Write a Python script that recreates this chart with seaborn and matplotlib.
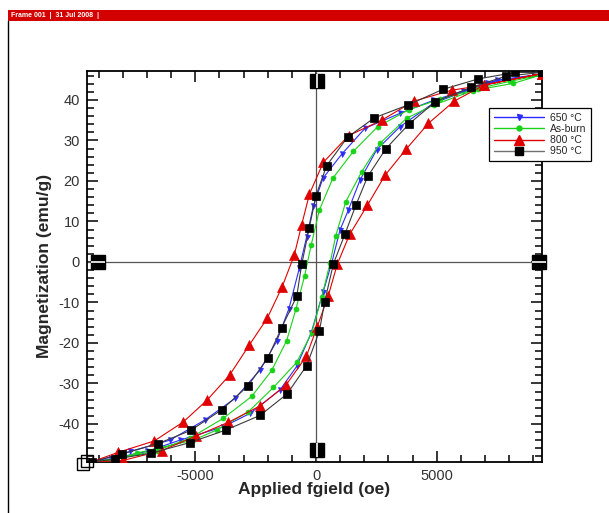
import matplotlib
matplotlib.use("Agg")
import matplotlib.pyplot as plt
import seaborn as sns
import pandas as pd
from matplotlib.ticker import MultipleLocator
from matplotlib.patches import Rectangle
from matplotlib.lines import Line2D

# ---------------- data ----------------
series_names = ["650 °C", "As-burn", "800 °C", "950 °C"]

# 650 °C (blue): descending branch then ascending branch
H_650 = [9350, 7500, 6103, 4860, 3480, 2030, 1064, 290, -110, -387, -690, -1120,
         -1630, -2320, -3355, -4598, -6048, -7705, -9300,
         -8500, -7000, -5634, -3840, -2734, -1491, -801, -200, 300, 649, 994,
         1340, 1823, 2513, 3480, 4860, 7071, 9350]
M_650 = [46.4, 44.9, 42.2, 39.9, 36.7, 33.0, 26.6, 20.7, 13.8, 6.2, -1.5, -11.5,
         -19.6, -26.7, -33.7, -39.0, -44.0, -46.8, -49.4,
         -48.6, -46.8, -44.0, -40.7, -37.4, -31.6, -25.8, -17.5, -7.3, -0.3, 7.9,
         12.8, 20.2, 27.7, 33.4, 39.2, 44.1, 46.4]

# As-burn (green)
H_asb = [9350, 8036, 6700, 5137, 3850, 2554, 1547, 700, 138, -200, -470, -835,
         -1215, -1836, -2664, -3840, -5220, -6600, -8000, -9300,
         -8400, -7430, -5082, -4114, -2804, -1768, -801, -179, 235, 580, 820,
         1235, 1893, 2651, 3757, 4900, 6500, 8174, 9350]
M_asb = [46.2, 44.6, 42.8, 40.2, 37.6, 33.4, 27.3, 20.7, 12.8, 4.2, -3.4, -11.7,
         -19.4, -26.8, -33.2, -38.6, -43.5, -46.6, -48.3, -49.4,
         -49.0, -47.2, -44.0, -41.5, -37.0, -31.0, -24.8, -17.5, -8.7, -0.3, 6.5,
         14.9, 22.3, 29.3, 35.5, 38.8, 42.3, 44.1, 46.2]

# 800 °C (red)
H_800 = [9350, 6972, 5620, 4053, 2720, 1350, 304, -270, -593, -905, -1400, -2020,
         -2762, -3575, -4510, -5496, -6700, -8189, -9300,
         -7980, -6400, -4980, -3632, -2335, -1243, -400, 50, 500, 890, 1395,
         2127, 2860, 3728, 4653, 5723, 6972, 9350]
M_800 = [46.5, 43.7, 42.4, 39.7, 35.0, 31.2, 24.6, 16.8, 9.2, 1.6, -6.1, -13.9,
         -20.5, -27.9, -34.1, -39.5, -44.2, -47.0, -49.4,
         -49.0, -46.6, -43.0, -39.6, -35.6, -30.4, -23.3, -16.0, -8.5, -0.4, 6.8,
         14.0, 21.4, 27.8, 34.2, 39.7, 43.7, 46.5]

# 950 °C (black)
H_950 = [9350, 8243, 6724, 5248, 3824, 2420, 1305, 443, 0, -277, -593, -800,
         -1421, -1990, -2817, -3906, -5190, -6565, -8024, -9300,
         -8340, -6820, -5220, -3735, -2320, -1200, -387, 138, 360, 718, 1201,
         1657, 2141, 2887, 3838, 4950, 6420, 7885, 9350]
M_950 = [46.8, 46.8, 45.2, 42.6, 38.8, 35.6, 30.8, 23.8, 16.4, 8.5, -0.6, -8.5,
         -16.2, -23.6, -30.6, -36.5, -41.6, -44.9, -47.4, -49.4,
         -48.7, -47.2, -44.6, -41.5, -37.9, -32.6, -25.6, -17.1, -9.8, -0.5, 6.9,
         14.1, 21.1, 27.9, 34.0, 39.6, 43.1, 45.9, 46.8]

x_ticks = [-5000, 0, 5000]
y_ticks = [-40, -30, -20, -10, 0, 10, 20, 30, 40]

# Tecplot axis "grab handles"
handle_vert_H = [40, 40]          # on the H=0 line (top / bottom)
handle_vert_M = [44.7, -46.4]
handle_horz_H = [-9030, 9240]     # on the M=0 line (left / right)
handle_horz_M = [0, 0]
corner_H = [-9673, -9507]
corner_M = [-49.9, -49.1]

# ---------------- styling ----------------
sns.set_theme(style="ticks")
plt.rcParams["font.family"] = ["Liberation Sans", "DejaVu Sans"]
plt.rcParams["axes.unicode_minus"] = False

W, Hpx = 609, 513
fig = plt.figure(figsize=(W / 100, Hpx / 100), dpi=100)
fig.patch.set_facecolor("white")

# header bar
fig.patches.append(Rectangle((8 / W, 1 - 21 / Hpx), 1 - 8 / W, 11 / Hpx,
                             transform=fig.transFigure, facecolor="#d40000",
                             edgecolor="none", zorder=0))
fig.text(11 / W, 1 - 15.5 / Hpx, "Frame 001  |  31 Jul 2008  |", color="white",
         fontsize=5, fontweight="bold", va="center", ha="left")
fig.add_artist(Line2D([8 / W, 8 / W], [0, 1 - 21 / Hpx], transform=fig.transFigure,
                      color="black", lw=1.0))

ax = fig.add_axes([86.7 / W, 1 - 462 / Hpx, (541.7 - 86.7) / W, (462 - 70.8) / Hpx])
ax.set_facecolor("white")

styles = [
    (H_650, M_650, "#2b2bff", "v", 3.6, "#2b2bff"),
    (H_asb, M_asb, "#19d219", "o", 3.6, "#19d219"),
    (H_800, M_800, "#e00000", "^", 7.2, "#e00000"),
    (H_950, M_950, "#000000", "s", 5.2, "#3a3a3a"),
]

handles = []
for name, (hx, my, col, mk, ms, lc) in zip(series_names, styles):
    df = pd.DataFrame({"H": hx, "M": my})
    sns.lineplot(data=df, x="H", y="M", sort=False, estimator=None, ax=ax,
                 color=lc, lw=0.8, marker=mk, markersize=ms,
                 markerfacecolor=col, markeredgecolor=col, markeredgewidth=0.5,
                 legend=False, zorder=3)
    handles.append(Line2D([], [], color=(lc if name != "950 °C" else "#707070"), lw=1.0,
                          marker=mk, markersize=ms, markerfacecolor=col,
                          markeredgecolor=col, label=name))

# zero lines
ax.axhline(0, color="#555555", lw=0.9, zorder=2)
ax.axvline(0, color="#555555", lw=0.9, zorder=2)

# handles
ax.plot(handle_vert_H, handle_vert_M, ls="none", marker="s", markersize=10,
        color="black", clip_on=False, zorder=6)
ax.plot(handle_vert_H, handle_vert_M, ls="none", marker="|", markersize=10,
        color="white", mew=1.2, clip_on=False, zorder=7)
ax.plot(handle_horz_H, handle_horz_M, ls="none", marker="s", markersize=10,
        color="black", clip_on=False, zorder=6)
ax.plot(handle_horz_H, handle_horz_M, ls="none", marker="_", markersize=10,
        color="white", mew=1.2, clip_on=False, zorder=7)
ax.plot(corner_H, corner_M, ls="none", marker="s", markersize=9,
        markerfacecolor="none", markeredgecolor="black", mew=1.0,
        clip_on=False, zorder=7)

ax.set_xlim(-9500, 9350)
ax.set_ylim(-49.4, 47.2)
ax.set_xticks(x_ticks)
ax.set_yticks(y_ticks)
ax.xaxis.set_minor_locator(MultipleLocator(1000))
ax.yaxis.set_minor_locator(MultipleLocator(2))
ax.tick_params(which="both", direction="in", top=True, right=True,
               colors="black", width=1.1, labelcolor="#333333", labelsize=10.5)
ax.tick_params(which="major", length=8, pad=5)
ax.tick_params(which="minor", length=5)
for s in ax.spines.values():
    s.set_linewidth(1.3)
    s.set_color("black")

ax.set_xlabel("Applied fgield (oe)", fontsize=12.5, fontweight="bold")
ax.set_ylabel("Magnetization (emu/g)", fontsize=12.5, fontweight="bold")
ax.xaxis.set_label_coords(0.5, -0.052)
ax.yaxis.set_label_coords(-0.076, 0.5)

leg = ax.legend(handles=handles, loc="upper left",
                bbox_to_anchor=(489 / W, 1 - 108 / Hpx),
                bbox_transform=fig.transFigure, fontsize=7.5, frameon=True,
                fancybox=False, edgecolor="black", framealpha=1,
                borderpad=0.45, labelspacing=0.12, handlelength=4.8,
                handletextpad=0.6, borderaxespad=0, numpoints=1)
leg.get_frame().set_linewidth(0.9)
leg.set_zorder(10)

fig.savefig("out.png", dpi=100, facecolor="white")
